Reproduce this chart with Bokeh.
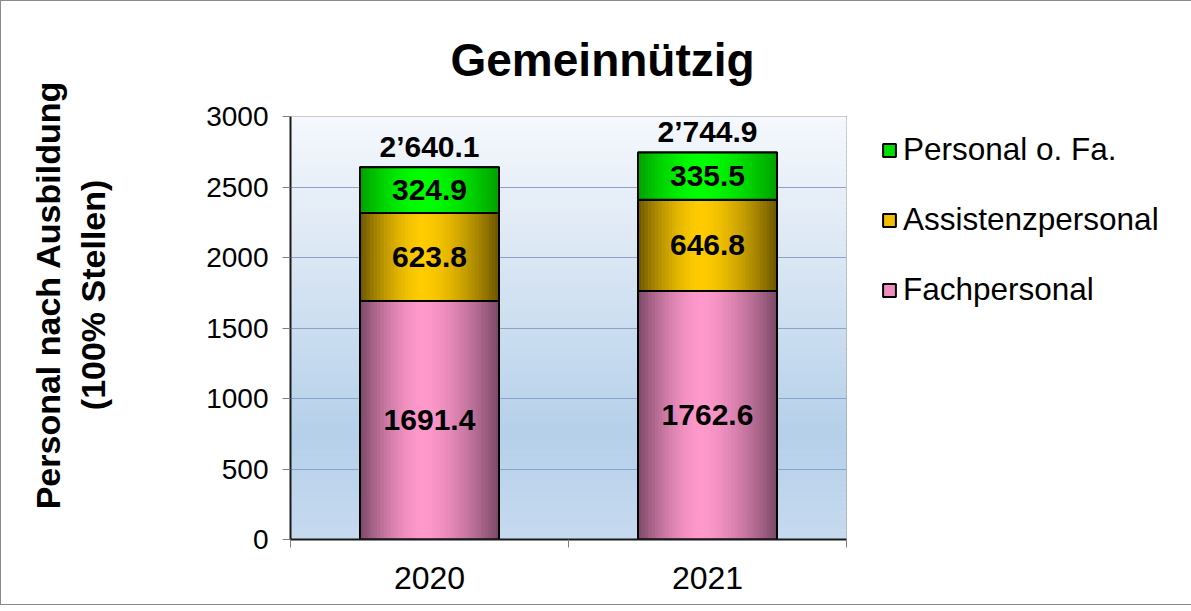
import numpy as np
from bokeh.plotting import figure
from bokeh.models import Range1d, FixedTicker, Legend, LegendItem, ColumnDataSource, LinearAxis
from bokeh.embed import file_html
from bokeh.resources import INLINE

# ---- data ----
years = ["2020", "2021"]
fachpersonal = [1691.4, 1762.6]
assistenzpersonal = [623.8, 646.8]
personal_ofa = [324.9, 335.5]
series_names = ["Fachpersonal", "Assistenzpersonal", "Personal o. Fa."]
y_ticks = [0, 500, 1000, 1500, 2000, 2500, 3000]

FONT = "Liberation Sans"
series = [fachpersonal, assistenzpersonal, personal_ofa]
light = [(255, 153, 204), (255, 204, 0), (0, 255, 0)]
dark = [(122, 72, 102), (107, 85, 0), (0, 160, 0)]
solid = ["#f08cc0", "#f0c000", "#00e000"]
Y_MAX = 3000

p = figure(frame_width=556, frame_height=423, x_range=Range1d(0, 2), y_range=Range1d(0, Y_MAX),
           output_backend="svg", toolbar_location=None,
           min_border_left=289, min_border_right=335, min_border_top=115, min_border_bottom=65)
p.styles = {"border": "1px solid #8a8a8a"}
p.background_fill_color = None
p.border_fill_color = "white"
p.outline_line_color = "#7f7f7f"
p.outline_line_width = 1

# ---- title ----
p.title.text = "Gemeinnützig"
p.title.align = "left"
p.title.offset = 160
p.title.text_font = FONT
p.title.text_font_size = "46px"
p.title.text_font_style = "bold"
p.title.text_color = "black"
p.title.standoff = 61

# ---- background gradient (decoration) ----
stops_t = [0.0, 0.25, 0.5, 0.75, 1.0]
stops_c = [(245, 248, 253), (226, 235, 246), (204, 222, 240), (181, 208, 234), (198, 218, 239)]
nb = 90
edges = np.linspace(Y_MAX, 0, nb + 1)
bt, bb, bc = [], [], []
for k in range(nb):
    t = (k + 0.5) / nb
    rgb = [int(round(np.interp(t, stops_t, [c[j] for c in stops_c]))) for j in range(3)]
    bt.append(edges[k]); bb.append(edges[k + 1]); bc.append("#%02x%02x%02x" % tuple(rgb))
bg = p.quad(left=0, right=2, top=bt, bottom=bb, fill_color=bc, line_color=bc, line_width=1)
bg.level = "image"

# ---- bars ----
centers = [i + 0.5 for i in range(len(years))]
bar_w = 0.5
nstrip = 40
legend_renderers = []
bottoms = [0.0] * len(years)
for s, vals in enumerate(series):
    tops = [b + v for b, v in zip(bottoms, vals)]
    src = ColumnDataSource(dict(left=[c - bar_w / 2 for c in centers], right=[c + bar_w / 2 for c in centers],
                                bottom=list(bottoms), top=tops))
    r = p.quad(left="left", right="right", bottom="bottom", top="top", source=src,
               fill_color=solid[s], line_color="black", line_width=2)
    legend_renderers.append(r)
    L, R, B, T, C = [], [], [], [], []
    for ci, c in enumerate(centers):
        x0 = c - bar_w / 2
        for k in range(nstrip):
            t = (k + 0.5) / nstrip
            d = (t - 0.45) / 0.45 if t < 0.45 else (t - 0.45) / 0.55
            f = 1 - abs(d) ** 1.6
            rgb = tuple(int(round(dark[s][j] + (light[s][j] - dark[s][j]) * f)) for j in range(3))
            L.append(x0 + k * bar_w / nstrip); R.append(x0 + (k + 1) * bar_w / nstrip)
            B.append(bottoms[ci]); T.append(tops[ci]); C.append("#%02x%02x%02x" % rgb)
    p.quad(left=L, right=R, bottom=B, top=T, fill_color=C, line_color=C, line_width=0.6)
    p.quad(left="left", right="right", bottom="bottom", top="top", source=src,
           fill_color=None, line_color="black", line_width=2)
    lsrc = ColumnDataSource(dict(x=centers, y=[(b + t) / 2 for b, t in zip(bottoms, tops)],
                                 txt=["%.1f" % v for v in vals]))
    p.text(x="x", y="y", text="txt", source=lsrc, text_font={"value": FONT},
           text_font_size="30px", text_font_style="bold", text_align="center",
           text_baseline="middle", text_color="black")
    bottoms = tops

def fmt_total(v):
    return "{:,.1f}".format(v).replace(",", "\u2019")

totals = bottoms
tsrc = ColumnDataSource(dict(x=centers, y=totals, txt=[fmt_total(v) for v in totals]))
p.text(x="x", y="y", text="txt", source=tsrc, text_font={"value": FONT}, text_font_size="30px",
       text_font_style="bold", text_align="center", text_baseline="middle", y_offset=-21,
       text_color="black")

# ---- axes ----
p.yaxis.ticker = FixedTicker(ticks=y_ticks)
p.yaxis.major_label_text_font = FONT
p.yaxis.major_label_text_font_size = "28px"
p.yaxis.major_label_text_color = "black"
p.yaxis.major_label_standoff = 14
p.yaxis.axis_line_color = "#1a1a1a"
p.yaxis.axis_line_width = 2
p.yaxis.major_tick_out = 8
p.yaxis.major_tick_in = 0
p.yaxis.major_tick_line_color = "#808080"
p.yaxis.minor_tick_line_color = None

NBSP = "\u00a0" * 7  # shifts the rotated axis title upwards, as in the original

def title_axis(text, standoff):
    return LinearAxis(ticker=FixedTicker(ticks=[]), axis_line_color=None,
                      major_tick_out=0, major_tick_in=0, minor_tick_out=0, minor_tick_in=0,
                      major_label_standoff=0, axis_label=NBSP + text, axis_label_text_font=FONT,
                      axis_label_text_font_size="34px", axis_label_text_font_style="bold",
                      axis_label_text_color="black", axis_label_standoff=standoff)

p.add_layout(title_axis("(100% Stellen)", 92), "left")
p.add_layout(title_axis("Personal nach Ausbildung", 4), "left")

p.xaxis.ticker = FixedTicker(ticks=centers, minor_ticks=[0, 1, 2])
p.xaxis.major_label_overrides = {c: y for c, y in zip(centers, years)}
p.xaxis.major_label_text_font = FONT
p.xaxis.major_label_text_font_size = "32px"
p.xaxis.major_label_text_color = "black"
p.xaxis.major_label_standoff = 19
p.xaxis.axis_line_color = "#1a1a1a"
p.xaxis.axis_line_width = 2
p.xaxis.major_tick_out = 0
p.xaxis.major_tick_in = 0
p.xaxis.minor_tick_out = 8
p.xaxis.minor_tick_in = 0
p.xaxis.minor_tick_line_color = "#808080"

p.xgrid.visible = False
p.ygrid.grid_line_color = "#8aa3c9"
p.ygrid.grid_line_width = 1

# ---- legend (an empty left-side legend title adds horizontal room before the items) ----
items = [LegendItem(label=series_names[i], renderers=[legend_renderers[i]]) for i in (2, 1, 0)]
legend = Legend(items=items, location="top_left", padding=0, margin=15, spacing=33,
                glyph_width=16, glyph_height=16, label_height=30, label_standoff=6,
                label_text_font=FONT, label_text_font_size="31.5px", label_text_color="black",
                title=" ", title_location="left", title_text_font_size="1px", title_standoff=19,
                border_line_color=None, background_fill_color=None)
p.add_layout(legend, "right")

open("out.html", "w").write(file_html(p, INLINE))
